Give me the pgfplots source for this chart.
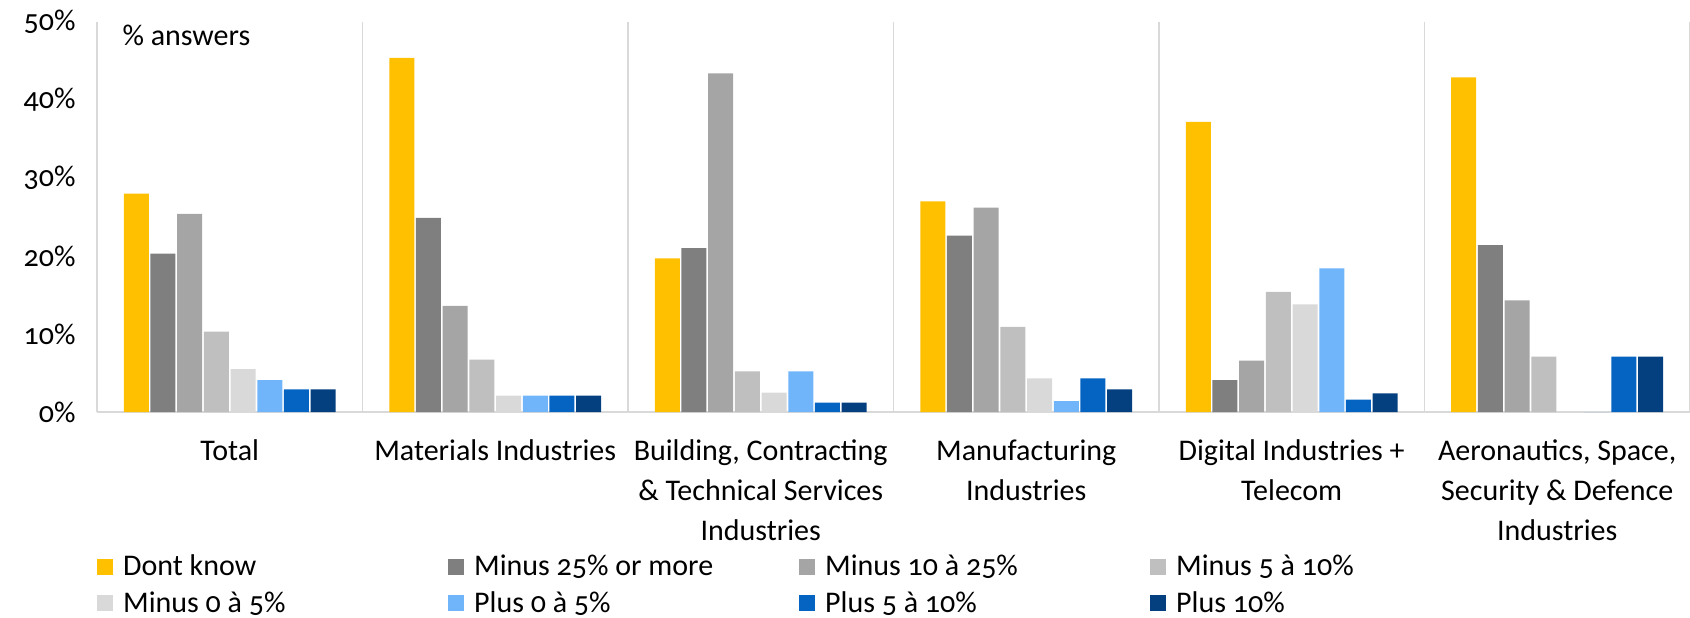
\documentclass[border=0pt]{standalone}
\usepackage{pgfplots}
\pgfplotsset{compat=1.18}
\usepackage{pgfplotstable}
\usepackage{fontspec}
\setmainfont{Carlito}[Numbers=OldStyle]

\definecolor{cYel}{HTML}{FFC000}
\definecolor{cG1}{HTML}{7F7F7F}
\definecolor{cG2}{HTML}{A5A5A5}
\definecolor{cG3}{HTML}{BFBFBF}
\definecolor{cG4}{HTML}{D9D9D9}
\definecolor{cB1}{HTML}{70B4FA}
\definecolor{cB2}{HTML}{0563C1}
\definecolor{cB3}{HTML}{044080}

% share of answers (%) per sector
\pgfplotstableread{
x dk m25 m10 m5 m0 p0 p5 p10
0 28.0 20.3 25.4 10.3 5.5 4.1 2.9 2.9
1 45.4 24.9 13.6 6.7 2.1 2.1 2.1 2.1
2 19.7 21.0 43.4 5.2 2.5 5.2 1.2 1.2
3 27.0 22.6 26.2 10.9 4.3 1.4 4.3 2.9
4 37.2 4.1 6.6 15.4 13.8 18.4 1.6 2.4
5 42.9 21.4 14.3 7.1 0 0 7.1 7.1
}\shares

\newcommand{\lbl}[1]{\makebox[323pt][l]{#1}}

\begin{document}
\begin{tikzpicture}
\begin{axis}[
    width=1593pt, height=390pt, scale only axis,
    ybar=1.7pt, bar width=25pt,
    xmin=-0.5, xmax=5.5, ymin=0, ymax=50,
    axis x line*=bottom, axis y line*=left,
    x axis line style={draw=cG4, line width=1.5pt},
    y axis line style={draw=none},
    major tick length=0,
    font=\fontsize{30}{40}\selectfont,
    xtick={0,...,5},
    xticklabels={Total, Materials Industries, {Building, Contracting\\\& Technical Services\\Industries}, Manufacturing\\Industries, Digital Industries +\\Telecom, {Aeronautics, Space,\\Security \& Defence\\Industries}},
    xticklabel style={align=center, yshift=-24pt},
    extra x ticks={-0.5,0.5,1.5,2.5,3.5,4.5,5.5},
    extra x tick labels={},
    extra x tick style={grid=major, major grid style={draw=cG4, line width=1.5pt}},
    ytick={0,10,...,50},
    yticklabel={\pgfmathprintnumber{\tick}\%},
    yticklabel style={xshift=-18pt},
    /pgf/number format/assume math mode=true,
    every axis plot/.append style={draw=none},
    legend columns=4,
    legend style={at={(0,-0.361)}, anchor=north west, draw=none, inner sep=0pt,
        font=\fontsize{30}{40}\selectfont, row sep=10pt,
        /tikz/every odd column/.append style={column sep=8pt},
        /tikz/every even column/.append style={column sep=0pt}},
    legend image code/.code={\fill[#1] (0pt,-9pt) rectangle (16pt,7pt);},
]
\addplot[fill=cYel] table[x=x,y=dk]{\shares};
\addplot[fill=cG1] table[x=x,y=m25]{\shares};
\addplot[fill=cG2] table[x=x,y=m10]{\shares};
\addplot[fill=cG3] table[x=x,y=m5]{\shares};
\addplot[fill=cG4] table[x=x,y=m0]{\shares};
\addplot[fill=cB1] table[x=x,y=p0]{\shares};
\addplot[fill=cB2] table[x=x,y=p5]{\shares};
\addplot[fill=cB3] table[x=x,y=p10]{\shares};
\legend{\lbl{Dont know}, \lbl{Minus 25\% or more}, \lbl{Minus 10 à 25\%}, \lbl{Minus 5 à 10\%},
    \lbl{Minus 0 à 5\%}, \lbl{Plus 0 à 5\%}, \lbl{Plus 5 à 10\%}, \lbl{Plus 10\%}}
\node[anchor=west] at ([xshift=22pt,yshift=-13pt]rel axis cs:0,1) {\% answers};
\coordinate (O) at (rel axis cs:0,0);
\end{axis}
\pgfresetboundingbox
\path ([xshift=-97pt,yshift=-206pt]O) rectangle ([xshift=1593pt,yshift=412pt]O);
\end{tikzpicture}
\end{document}
